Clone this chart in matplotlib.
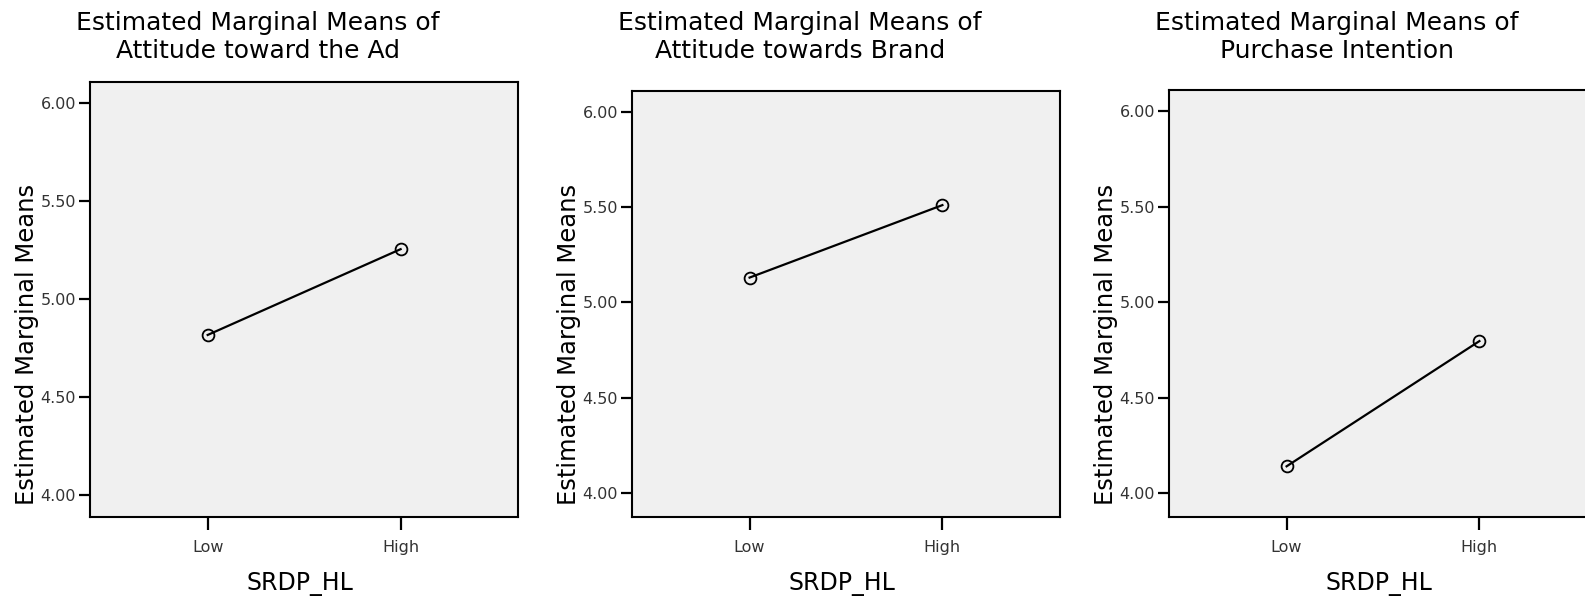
import matplotlib
matplotlib.use("Agg")
import matplotlib.pyplot as plt

# ---- data ----
categories = ["Low", "High"]
titles = [
    "Estimated Marginal Means of\nAttitude toward the Ad",
    "Estimated Marginal Means of\nAttitude towards Brand",
    "Estimated Marginal Means of\nPurchase Intention",
]
attitude_ad = [4.817, 5.255]
attitude_brand = [5.130, 5.510]
purchase_intention = [4.140, 4.796]
y_ticks = [4.00, 4.50, 5.00, 5.50, 6.00]
y_tick_labels = ["4.00", "4.50", "5.00", "5.50", "6.00"]
x_label = "SRDP_HL"
y_label = "Estimated Marginal Means"

series = [attitude_ad, attitude_brand, purchase_intention]

W, H = 1585, 600
fig = plt.figure(figsize=(W / 100, H / 100), dpi=100)
plt.rcParams['font.family'] = ['DejaVu Sans']

# axes boxes in pixels: left, top, right, bottom
boxes = [(90, 82.3, 518.3, 516.7), (632, 90.7, 1060, 516.7), (1169, 90.3, 1597, 516.7)]
ylims = [(3.889, 6.107), (3.876, 6.110), (3.876, 6.110)]

for i, (vals, title, box, yl) in enumerate(zip(series, titles, boxes, ylims)):
    l, t, r, b = box
    ax = fig.add_axes([l / W, 1 - b / H, (r - l) / W, (b - t) / H])
    ax.set_facecolor("#F0F0F0")
    x = list(range(len(categories)))
    ax.plot(x, vals, color="black", lw=1.6, marker="o", ms=8.5,
            mfc="none", mec="black", mew=1.3, clip_on=False)
    ax.set_xlim(-0.61, 1.61)
    ax.set_ylim(*yl)
    ax.set_xticks(x)
    ax.set_xticklabels(categories)
    ax.set_yticks(y_ticks)
    ax.set_yticklabels(y_tick_labels)
    for s in ax.spines.values():
        s.set_linewidth(1.5)
        s.set_color("black")
    ax.tick_params(axis="y", length=8, width=1.6, pad=2, labelsize=11.5,
                   labelcolor="#333333", color="black")
    ax.tick_params(axis="x", length=9.5, width=1.6, pad=7, labelsize=11.5,
                   labelcolor="#333333", color="black")
    # titles
    cx = l + 0.392 * (r - l)
    fig.text(cx / W, 1 - 37 / H, title, ha="center", va="center",
             fontsize=18, linespacing=1.22, color="black")
    # y label
    fig.text((l - 63) / W, 1 - 344 / H, y_label, rotation=90,
             ha="center", va="center", fontsize=17.5, color="black")
    # x label
    fig.text((l + 0.49 * (r - l)) / W, 1 - 584 / H, x_label,
             ha="center", va="center", fontsize=17, color="black")

fig.savefig("out.png", dpi=100, facecolor="white")
